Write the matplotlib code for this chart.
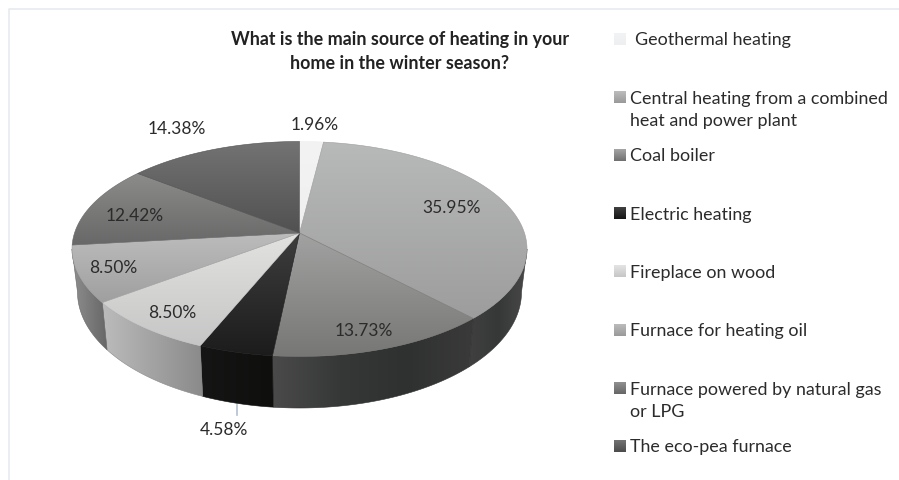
import numpy as np
import matplotlib
matplotlib.use("Agg")
import matplotlib.pyplot as plt
from matplotlib.colors import LinearSegmentedColormap
from matplotlib.patches import Polygon

plt.rcParams['font.family'] = ['Lato', 'DejaVu Sans']

# data
title_lines = ["What is the main source of heating in your", "home in the winter season?"]
categories = ["Geothermal heating", "Central heating from a combined\nheat and power plant", "Coal boiler",
              "Electric heating", "Fireplace on wood", "Furnace for heating oil",
              "Furnace powered by natural gas\nor LPG", "The eco-pea furnace"]
shares = [1.96, 35.95, 13.73, 4.58, 8.50, 8.50, 12.42, 14.38]

# colours, top of slice goes top to bottom, side of slice goes left to right
top_colors = [["#f2f3f2", "#eeefee"], ["#b8bab9", "#9c9d9c"], ["#a2a2a2", "#777775"], ["#3e3e3e", "#1b1c1b"],
              ["#e2e2e0", "#c6c6c6"], ["#bbbcbb", "#9f9f9f"], ["#8c8c8a", "#686868"], ["#737373", "#505150"]]
side_colors = [["#d0d0d0", "#d0d0d0"], ["#404040", "#363837", "#484848"], ["#4a4a4a", "#363837", "#2f3130", "#3a3a3a"],
               ["#141514", "#0f100e"], ["#bcbcbc", "#8a8a8a"], ["#8e8e8e", "#666666"],
               ["#777777", "#555555"], ["#555555", "#444444"]]
swatch_colors = [["#f2f3f4", "#eeeff0"], ["#bdbdbd", "#999999"], ["#a5a5a5", "#707070"], ["#404040", "#151515"],
                 ["#e4e4e4", "#c6c6c6"], ["#bcbcbc", "#999999"], ["#909090", "#666666"], ["#737373", "#4c4c4c"]]

# layout, all in image pixels
pct_pos = [(315, 125.5), (452, 208.5), (364, 331.5), (224, 430.5), (172, 313.5), (113, 268.5), (135, 216.5), (177, 129.5)]
legend_x = [635, 630, 630, 630, 630, 630, 630, 630]
legend_y = [40.5, 110, 156.5, 215.5, 273.5, 331.5, 401, 447.5]
swatch_y = [39.5, 98, 156, 214, 272.5, 331, 389, 447]
top_ell = (299.5, 250, 227.5, 107.5)
bot_ell = (299.5, 293, 222, 116)
apex = 0.149

fig = plt.figure(figsize=(8.99, 4.81), dpi=100)
ax = fig.add_axes([0, 0, 1, 1])
ax.set_xlim(0, 899)
ax.set_ylim(481, 0)
ax.axis('off')
ax.set_autoscale_on(False)


def rim(theta, ell):
    # circle seen in perspective: the centre of the pie sits above the centre of the ellipse
    u, v = np.sin(theta), np.cos(theta)
    d = 1 + apex * v
    xn = u * np.sqrt(1 - apex ** 2) / d
    yn = (v + apex) / d
    return np.column_stack([ell[0] + ell[2] * xn, ell[1] - ell[3] * yn])


def grad_fill(pts, colors, horizontal, zorder):
    cmap = LinearSegmentedColormap.from_list("g", colors)
    x0, y0 = pts.min(axis=0)
    x1, y1 = pts.max(axis=0)
    g = np.linspace(0, 1, 256)
    g = g[None, :] if horizontal else g[:, None]
    im = ax.imshow(g, cmap=cmap, extent=(x0, x1, y1, y0), aspect='auto', zorder=zorder,
                   interpolation='bilinear', vmin=0, vmax=1)
    # thin edge hides the jagged clip
    edge = colors[len(colors) // 2]
    poly = Polygon(pts, closed=True, facecolor='none', edgecolor=edge, lw=0.4, zorder=zorder + 0.1)
    ax.add_patch(poly)
    im.set_clip_path(poly)


edges = 2 * np.pi * np.concatenate([[0], np.cumsum(shares)]) / np.sum(shares)

# side walls: only the front part of the rim shows
front_from = np.arccos(-apex)
front_to = 2 * np.pi - front_from
for i in range(len(shares)):
    a, b = max(edges[i], front_from), min(edges[i + 1], front_to)
    if b <= a:
        continue
    th = np.linspace(a, b, 80)
    pts = np.vstack([rim(th, top_ell), rim(th, bot_ell)[::-1]])
    grad_fill(pts, side_colors[i], True, 2 + i * 0.2)

# top of the pie
centre = np.array([[top_ell[0], top_ell[1] - top_ell[3] * apex]])
for i in range(len(shares)):
    th = np.linspace(edges[i], edges[i + 1], 120)
    pts = np.vstack([centre, rim(th, top_ell)])
    grad_fill(pts, top_colors[i], False, 5 + i * 0.2)

# frame of the chart area
ax.plot([8.5, 8.5, 899], [481, 10, 10], color="#e6eaef", lw=1.2, zorder=1)
# leader line of the small slice
ax.plot([237, 237], [406, 416], color="#b3bfd0", lw=1.2, zorder=1)

for y, line in zip([39.5, 63.5], title_lines):
    ax.text(400, y, line, ha='center', va='center', fontsize=12.9, fontweight='bold', color="#222222", zorder=10)

for (x, y), s in zip(pct_pos, shares):
    ax.text(x, y, f"{s:.2f}%", ha='center', va='center', fontsize=12.5, color="#2b2b2b", zorder=10)

for lab, lx, ly, sy, c in zip(categories, legend_x, legend_y, swatch_y, swatch_colors):
    ax.text(lx, ly, lab, ha='left', va='center', fontsize=12.9, color="#2b2b2b",
            linespacing=1.45, zorder=10)
    cmap = LinearSegmentedColormap.from_list("s", c)
    ax.imshow(np.linspace(0, 1, 64)[:, None], cmap=cmap, extent=(614, 626, sy + 6, sy - 6), aspect='auto', zorder=10,
              vmin=0, vmax=1)

fig.savefig("out.png", dpi=100)
